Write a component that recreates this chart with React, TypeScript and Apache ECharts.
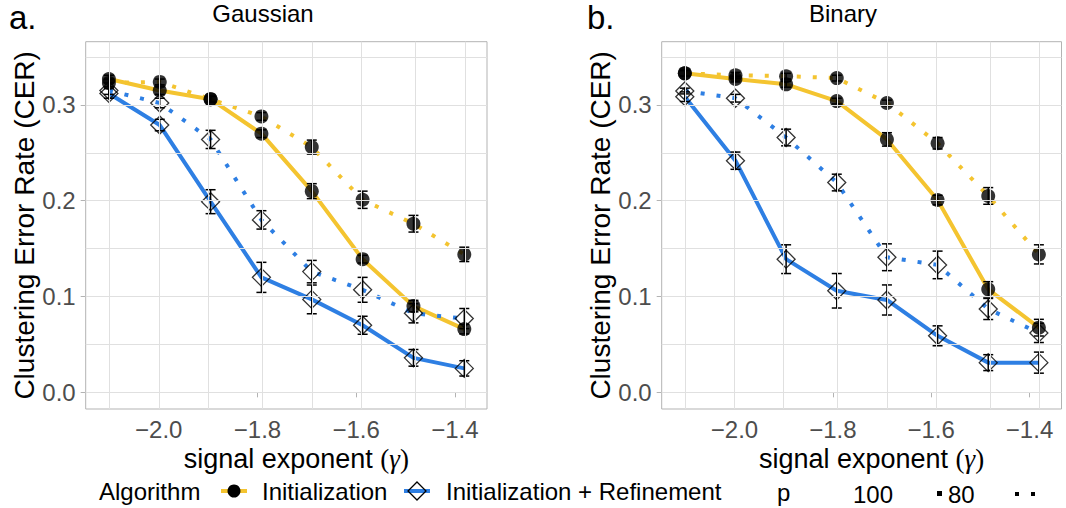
import React, { useEffect, useRef } from "react";
import * as echarts from "echarts";

// ---------- data ----------
const xs = [-2.101, -1.998, -1.895, -1.792, -1.69, -1.587, -1.484, -1.381];
const xTickLabels = [-2.0, -1.8, -1.6, -1.4];
const yTickLabels = [0, 0.1, 0.2, 0.3];
const yGridValues = [0, 0.05, 0.1, 0.15, 0.2, 0.25, 0.3, 0.35];
const panelTitles = ["Gaussian", "Binary"];
const panelLetters = ["a.", "b."];
const algorithms = ["Initialization", "Initialization + Refinement"];
const pLevels = ["100", "80"];

// Gaussian
const gInit100 = [0.327, 0.315, 0.306, 0.27, 0.21, 0.139, 0.09, 0.066];
const gInit100Err = [0.004, 0.004, 0.003, 0.004, 0.0078, 0.004, 0.006, 0.005];
const gInit80 = [0.323, 0.324, 0.306, 0.288, 0.256, 0.201, 0.176, 0.144];
const gInit80Err = [0.004, 0.003, 0.003, 0.004, 0.0073, 0.009, 0.0087, 0.0075];
const gRef100 = [0.312, 0.279, 0.199, 0.12, 0.097, 0.07, 0.036, 0.025];
const gRef100Err = [0.005, 0.006, 0.0125, 0.0157, 0.015, 0.0094, 0.0087, 0.008];
const gRef80 = [0.315, 0.302, 0.264, 0.18, 0.126, 0.107, 0.0825, 0.077];
const gRef80Err = [0.004, 0.005, 0.0095, 0.0096, 0.0117, 0.013, 0.01, 0.0105];

// Binary
const bInit100 = [0.333, 0.327, 0.3215, 0.304, 0.264, 0.2007, 0.1075, 0.0675];
const bInit100Err = [0.003, 0.003, 0.003, 0.003, 0.007, 0.005, 0.008, 0.0087];
const bInit80 = [0.333, 0.331, 0.33, 0.328, 0.302, 0.26, 0.205, 0.144];
const bInit80Err = [0.003, 0.003, 0.003, 0.003, 0.003, 0.006, 0.0087, 0.01];
const bRef100 = [0.3086, 0.2418, 0.139, 0.106, 0.0964, 0.059, 0.031, 0.031];
const bRef100Err = [0.005, 0.009, 0.015, 0.018, 0.0157, 0.0104, 0.0083, 0.011];
const bRef80 = [0.3145, 0.307, 0.266, 0.219, 0.141, 0.133, 0.087, 0.062];
const bRef80Err = [0.003, 0.004, 0.0087, 0.0087, 0.014, 0.0144, 0.011, 0.01];

// ---------- styling ----------
const FONT = "'Liberation Sans', Arial, Helvetica, sans-serif";
const SERIF = "'Liberation Serif', 'DejaVu Serif', serif";
const YELLOW = "#F4C430";
const BLUE = "#2E7FE3";
const GRID_COLOR = "#e0e0e0";
const DOTTED = [4, 12];

const panelData = [
  [
    { vals: gInit100, err: gInit100Err, alg: 0, p: 0 },
    { vals: gInit80, err: gInit80Err, alg: 0, p: 1 },
    { vals: gRef100, err: gRef100Err, alg: 1, p: 0 },
    { vals: gRef80, err: gRef80Err, alg: 1, p: 1 },
  ],
  [
    { vals: bInit100, err: bInit100Err, alg: 0, p: 0 },
    { vals: bInit80, err: bInit80Err, alg: 0, p: 1 },
    { vals: bRef100, err: bRef100Err, alg: 1, p: 0 },
    { vals: bRef80, err: bRef80Err, alg: 1, p: 1 },
  ],
];

const gridBoxes = [
  { left: 85.7, top: 41.7, width: 401.3, height: 367.3 },
  { left: 661.7, top: 41.7, width: 399.8, height: 367.3 },
];

const fmtNum = (v: number) => (v < 0 ? "\u2212" : "") + Math.abs(v).toFixed(1);

function buildOption() {
  const grids: any[] = [];
  const xAxes: any[] = [];
  const yAxes: any[] = [];
  const series: any[] = [];

  gridBoxes.forEach((g, i) => {
    grids.push({
      ...g,
      show: true,
      borderColor: "#b3b3b3",
      borderWidth: 1,
      backgroundColor: "transparent",
      containLabel: false,
    });
    xAxes.push({
      type: "value",
      gridIndex: i,
      min: -2.148,
      max: -1.335,
      axisLine: { show: false },
      axisTick: {
        show: true,
        customValues: xTickLabels,
        length: 5,
        lineStyle: { color: "#b3b3b3", width: 1 },
      },
      axisLabel: {
        customValues: xTickLabels,
        formatter: (v: number) => fmtNum(v),
        fontFamily: FONT,
        fontSize: 24,
        color: "#4d4d4d",
        margin: 8,
      },
      splitLine: { show: false },
      name: "{a|signal exponent }{b|(}{c|\u03B3}{b|)}",
      nameLocation: "middle",
      nameGap: 34,
      nameTextStyle: {
        padding: [0, 0, 0, 20],
        rich: {
          a: { fontFamily: FONT, fontSize: 27, color: "#000" },
          b: { fontFamily: SERIF, fontSize: 27, color: "#000" },
          c: { fontFamily: SERIF, fontSize: 27, fontStyle: "italic", color: "#000" },
        },
      },
    });
    yAxes.push({
      type: "value",
      gridIndex: i,
      min: -0.0174,
      max: 0.366,
      axisLine: { show: false },
      axisTick: {
        show: true,
        customValues: yTickLabels,
        length: 5,
        lineStyle: { color: "#b3b3b3", width: 1 },
      },
      axisLabel: {
        customValues: yTickLabels,
        formatter: (v: number) => fmtNum(v),
        fontFamily: FONT,
        fontSize: 24,
        color: "#4d4d4d",
        margin: 10,
      },
      splitLine: { show: false },
      name: "Clustering Error Rate (CER)",
      nameLocation: "middle",
      nameGap: 46,
      nameTextStyle: { fontFamily: FONT, fontSize: 28, color: "#000" },
    });

    // grid lines
    series.push({
      type: "line",
      xAxisIndex: i,
      yAxisIndex: i,
      data: [[xs[0], yGridValues[0]]],
      showSymbol: false,
      lineStyle: { opacity: 0 },
      silent: true,
      z: 1,
      markLine: {
        silent: true,
        symbol: ["none", "none"],
        label: { show: false },
        animation: false,
        lineStyle: { color: GRID_COLOR, width: 1, type: "solid" },
        data: [
          ...xs.map((x) => ({ xAxis: x })),
          ...yGridValues.map((y) => ({ yAxis: y })),
        ],
      },
    });

    panelData[i].forEach((s) => {
      const color = s.alg === 0 ? YELLOW : BLUE;
      series.push({
        type: "line",
        name: algorithms[s.alg] + " p=" + pLevels[s.p],
        xAxisIndex: i,
        yAxisIndex: i,
        data: xs.map((x, k) => [x, s.vals[k]]),
        showSymbol: false,
        symbol: "none",
        lineStyle: {
          color,
          width: 4,
          type: s.p === 0 ? "solid" : DOTTED,
          cap: "butt",
        },
        z: 2,
      });
    });

    panelData[i].forEach((s) => {
      series.push({
        type: "scatter",
        xAxisIndex: i,
        yAxisIndex: i,
        data: xs.map((x, k) => [x, s.vals[k]]),
        symbol: s.alg === 0 ? "circle" : "diamond",
        symbolSize: s.alg === 0 ? 14 : [18, 18],
        itemStyle:
          s.alg === 0
            ? { color: "#000" }
            : { color: "rgba(0,0,0,0)", borderColor: "#000", borderWidth: 1.3 },
        z: 3,
      });
    });

    panelData[i].forEach((s) => {
      series.push({
        type: "custom",
        xAxisIndex: i,
        yAxisIndex: i,
        data: xs.map((x, k) => [x, s.vals[k] - s.err[k], s.vals[k] + s.err[k]]),
        encode: { x: 0, y: [1, 2] },
        z: 4,
        renderItem: (params: any, api: any) => {
          const x = api.value(0);
          const lo = api.coord([x, api.value(1)]);
          const hi = api.coord([x, api.value(2)]);
          const hw = 5;
          const st = { stroke: "#000", lineWidth: 1.5 };
          return {
            type: "group",
            children: [
              { type: "line", shape: { x1: lo[0], y1: lo[1], x2: hi[0], y2: hi[1] }, style: st },
              { type: "line", shape: { x1: lo[0] - hw, y1: lo[1], x2: lo[0] + hw, y2: lo[1] }, style: st },
              { type: "line", shape: { x1: hi[0] - hw, y1: hi[1], x2: hi[0] + hw, y2: hi[1] }, style: st },
            ],
          };
        },
      });
    });
  });

  const txt = (text: string, x: number, y: number, size: number, extra: any = {}) => ({
    type: "text",
    x,
    y,
    style: {
      text,
      fontFamily: FONT,
      fontSize: size,
      fill: "#000",
      textVerticalAlign: "middle",
      ...extra,
    },
  });

  const LY = 491;
  const LY2 = 494;
  const graphic: any[] = [
    txt(panelLetters[0], 9, 17.5, 33),
    txt(panelLetters[1], 587, 17.5, 33),
    txt(panelTitles[0], 263, 13, 24, { textAlign: "center" }),
    txt(panelTitles[1], 843, 13, 24, { textAlign: "center" }),
    // legend
    txt("Algorithm", 99, LY, 24),
    { type: "line", shape: { x1: 221, y1: LY, x2: 247, y2: LY }, style: { stroke: YELLOW, lineWidth: 4 } },
    { type: "circle", shape: { cx: 234, cy: LY, r: 6.5 }, style: { fill: "#000" } },
    txt(algorithms[0], 262, LY, 24),
    { type: "line", shape: { x1: 404, y1: LY, x2: 430, y2: LY }, style: { stroke: BLUE, lineWidth: 4 } },
    {
      type: "polygon",
      shape: { points: [[417, LY - 9], [426, LY], [417, LY + 9], [408, LY]] },
      style: { fill: "rgba(0,0,0,0)", stroke: "#000", lineWidth: 1.3 },
    },
    txt(algorithms[1], 446, LY, 24),
    txt("p", 777, LY2 - 2, 24),
    txt(pLevels[0], 853, LY2, 24),
    { type: "rect", shape: { x: 937, y: LY2 - 3, width: 5, height: 5 }, style: { fill: "#000" } },
    txt(pLevels[1], 948, LY2, 24),
    { type: "rect", shape: { x: 1015, y: LY2 - 2, width: 4, height: 4 }, style: { fill: "#000" } },
    { type: "rect", shape: { x: 1031, y: LY2 - 2, width: 4, height: 4 }, style: { fill: "#000" } },
  ];

  return {
    animation: false,
    backgroundColor: "#fff",
    grid: grids,
    xAxis: xAxes,
    yAxis: yAxes,
    series,
    graphic,
  };
}

export default function App() {
  const ref = useRef<HTMLDivElement>(null);
  useEffect(() => {
    if (!ref.current) return;
    const chart = echarts.init(ref.current, undefined, { renderer: "svg" });
    chart.setOption(buildOption() as any);
    return () => chart.dispose();
  }, []);
  return (
    <div
      ref={ref}
      style={{ position: "absolute", left: 0, top: 0, width: 1066, height: 508, background: "#fff" }}
    />
  );
}
